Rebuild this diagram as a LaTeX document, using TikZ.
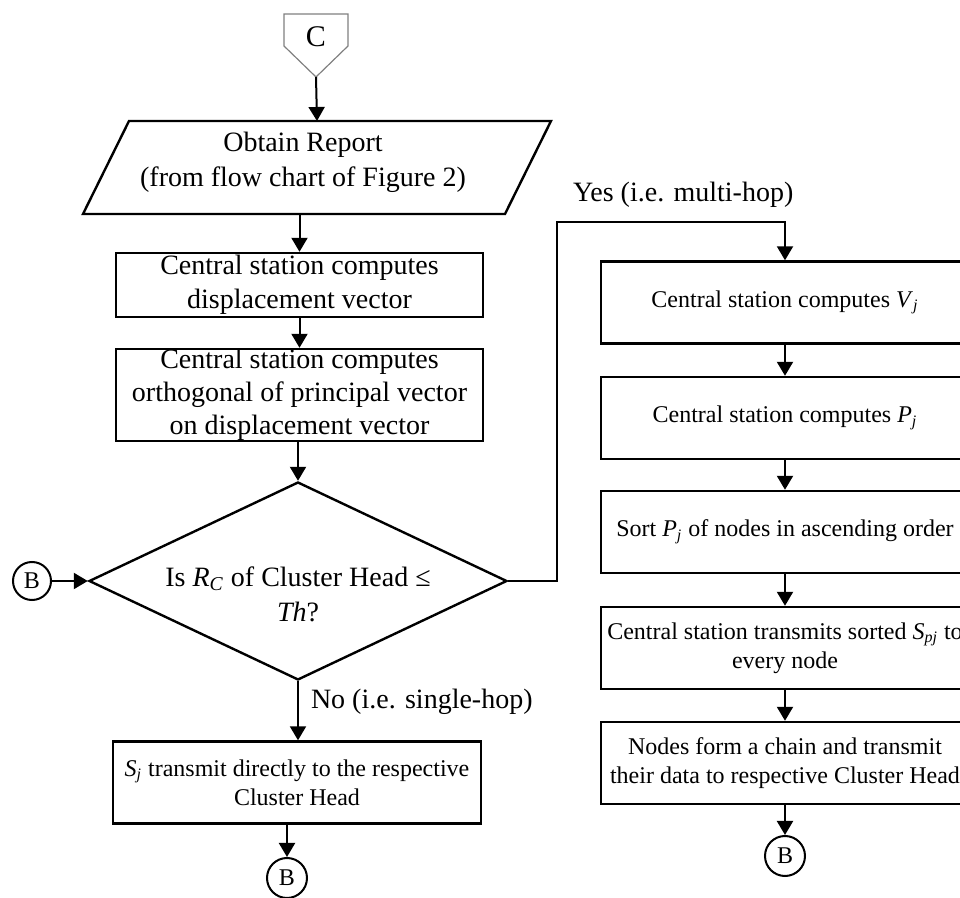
\documentclass[tikz,border=0pt]{standalone}
\usepackage{fontspec}
\setmainfont{Liberation Serif}
\usetikzlibrary{arrows.meta,shapes.geometric}
\tikzset{
  box/.style={draw,line width=1.2pt,align=center,inner sep=1pt},
  bigbox/.style={box,minimum width=183.5pt,inner ysep=0pt,font=\fontsize{14}{17}\selectfont},
  rbox/.style={box,minimum width=184pt,minimum height=41pt,font=\fontsize{12}{14.4}\selectfont},
  conn/.style={draw,circle,line width=1pt,minimum size=20pt,inner sep=0pt,font=\fontsize{12}{14}\selectfont},
  lbl/.style={font=\fontsize{14}{17.5}\selectfont,inner sep=0pt},
}
\newcommand{\vsub}[2]{\textit{#1}\textsubscript{\textit{#2}}}
\begin{document}
\begin{tikzpicture}[x=0.5pt,y=-0.5pt,>={Triangle[length=7pt,width=8pt]},line width=1pt]
	\useasboundingbox (0,0) rectangle (960,898);
	\clip (0,0) rectangle (960,898);
	% off-page connector
	\draw[gray,line width=0.6pt] (284,14)--(348,14)--(348,46)--(316,77)--(284,46)--cycle;
	\node[lbl,font=\fontsize{15}{18}\selectfont] (C) at (316,37) {C};
	\coordinate (Ctip) at (316,77);
	% left column
	\node[minimum width=210pt,minimum height=45.5pt,inner sep=0pt] (report) at (317,167.5) {};
	\draw[line width=1.2pt] ([xshift=11.5pt]report.north west) -- ([xshift=11.5pt]report.north east)
		-- ([xshift=-11.5pt]report.south east) -- ([xshift=-11.5pt]report.south west) -- cycle;
	\node[lbl,align=center] (reporttxt) at (303,162) {Obtain Report\\(from flow chart of Figure 2)};
	\node[bigbox,minimum height=32pt] (cs1) at (299.5,285) {Central station computes\\displacement vector};
	\node[bigbox,minimum height=46pt,font=\fontsize{14}{16.5}\selectfont] (cs2) at (299.5,395) {Central station computes\\orthogonal of principal vector\\on displacement vector};
	\node[draw,diamond,line width=1.2pt,minimum width=209pt,minimum height=99pt,inner sep=0pt] (dec) at (298,581) {};
	\node[lbl,align=center] (dectxt) at (298,594) {Is \vsub{R}{C} of Cluster Head ≤\\\textit{Th}?};
	\node[conn,minimum size=19pt] (bl) at (32,581) {B};
	\node[rbox] (sh) at (297,782.5) {\vsub{S}{j} transmit directly to the respective\\Cluster Head};
	\node[conn] (bb) at (287,878) {B};
	% right column
	\node[rbox] (vj) at (785,302.5) {Central station computes \vsub{V}{j}};
	\node[rbox] (pj) at (785,418) {Central station computes \vsub{P}{j}};
	\node[rbox] (sort) at (785,532) {Sort \vsub{P}{j} of nodes in ascending order};
	\node[rbox] (spj) at (785,648) {Central station transmits sorted \vsub{S}{pj} to\\every node};
	\node[rbox] (chain) at (785,763) {Nodes form a chain and transmit\\their data to respective Cluster Head};
	\node[conn] (br) at (785,856) {B};
	\coordinate (yes) at (557,222);
	% connectors
	\draw[->] (Ctip) -- (report.north);
	\draw[->] (cs1.north |- report.south) -- (cs1.north);
	\draw[->] (cs1) -- (cs2);
	\draw[->] (cs2.south -| dec.north) -- (dec.north);
	\draw[->] (bl) -- (dec);
	\draw[->] (dec.east) -| (yes) -| (vj.north);
	\node[lbl,anchor=west] (yeslbl) at (572,195) {Yes (i.e. multi-hop)};
	\draw[->] (dec.south) -- (dec.south |- sh.north);
	\node[lbl,anchor=west] (nolbl) at (310,702) {No (i.e. single-hop)};
	\draw[->] (bb.north |- sh.south) -- (bb);
	\foreach \a/\b in {vj/pj,pj/sort,sort/spj,spj/chain,chain/br} \draw[->] (\a) -- (\b);
\end{tikzpicture}
\end{document}
